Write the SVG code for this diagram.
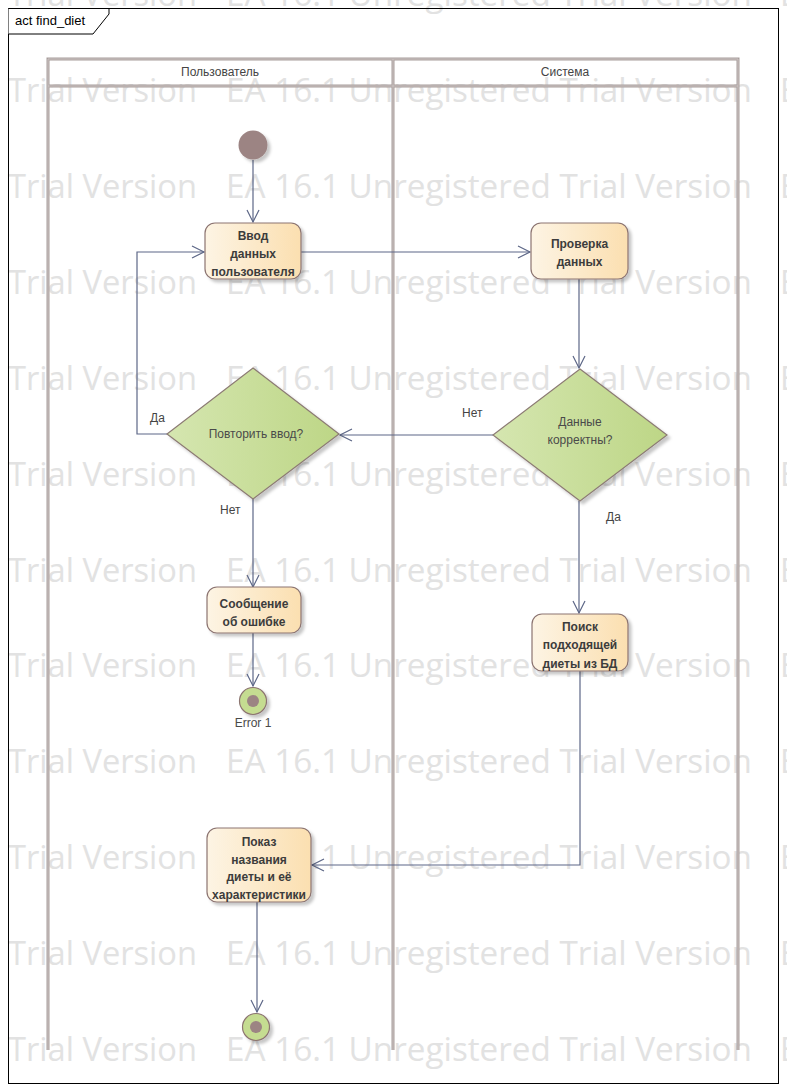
<svg xmlns="http://www.w3.org/2000/svg" width="787" height="1092" viewBox="0 0 787 1092">
<style>
.wm{font-family:"Open Sans","Liberation Sans",sans-serif;font-size:32px;fill:#e2e2e2}
.lane{fill:none;stroke:#a89d9b;stroke-width:3}
.lanein{fill:none;stroke:#cdc5c4;stroke-width:1}
.hdr{font-family:"Liberation Sans",Arial,sans-serif;font-size:12px;fill:#444;text-anchor:middle}
.act{fill:url(#ga);stroke:#8c7471;stroke-width:1.2;filter:url(#sh)}
.dec{fill:url(#gd);stroke:#8c7b74;stroke-width:1.2;filter:url(#sh)}
.at{font-family:"Liberation Sans",Arial,sans-serif;font-size:12px;font-weight:bold;fill:#3c3c3c;text-anchor:middle}
.dt{font-family:"Liberation Sans",Arial,sans-serif;font-size:12px;fill:#4a4a4a;text-anchor:middle}
.lbl{font-family:"Liberation Sans",Arial,sans-serif;font-size:12px;fill:#444}
.con{fill:none;stroke:#5d6787;stroke-width:1.2}
</style>
<defs>
<linearGradient id="ga" x1="0" y1="0" x2="1" y2="0">
<stop offset="0" stop-color="#fdf4e4"/><stop offset="1" stop-color="#fbdfb0"/>
</linearGradient>
<linearGradient id="gd" x1="0" y1="0" x2="1" y2="0">
<stop offset="0" stop-color="#d5e6b0"/><stop offset="1" stop-color="#bdd686"/>
</linearGradient>
<filter id="sh" x="-20%" y="-20%" width="150%" height="150%">
<feDropShadow dx="3" dy="3" stdDeviation="1.5" flood-color="#000" flood-opacity="0.22"/>
</filter>
<marker id="arr" markerUnits="userSpaceOnUse" markerWidth="14" markerHeight="14" refX="12" refY="6" orient="auto" overflow="visible">
<path d="M0,0 L12,6 L0,12" fill="none" stroke="#5d6787" stroke-width="1.2"/>
</marker>
</defs>
<rect width="787" height="1092" fill="#fff"/>
<g id="watermark">
<text class="wm" y="6"><tspan x="8" textLength="189" lengthAdjust="spacingAndGlyphs">Trial Version</tspan><tspan x="226" textLength="526" lengthAdjust="spacingAndGlyphs">EA 16.1 Unregistered Trial Version</tspan><tspan x="780">EA</tspan></text>
<text class="wm" y="102"><tspan x="8" textLength="189" lengthAdjust="spacingAndGlyphs">Trial Version</tspan><tspan x="226" textLength="526" lengthAdjust="spacingAndGlyphs">EA 16.1 Unregistered Trial Version</tspan><tspan x="780">EA</tspan></text>
<text class="wm" y="198"><tspan x="8" textLength="189" lengthAdjust="spacingAndGlyphs">Trial Version</tspan><tspan x="226" textLength="526" lengthAdjust="spacingAndGlyphs">EA 16.1 Unregistered Trial Version</tspan><tspan x="780">EA</tspan></text>
<text class="wm" y="294"><tspan x="8" textLength="189" lengthAdjust="spacingAndGlyphs">Trial Version</tspan><tspan x="226" textLength="526" lengthAdjust="spacingAndGlyphs">EA 16.1 Unregistered Trial Version</tspan><tspan x="780">EA</tspan></text>
<text class="wm" y="390"><tspan x="8" textLength="189" lengthAdjust="spacingAndGlyphs">Trial Version</tspan><tspan x="226" textLength="526" lengthAdjust="spacingAndGlyphs">EA 16.1 Unregistered Trial Version</tspan><tspan x="780">EA</tspan></text>
<text class="wm" y="486"><tspan x="8" textLength="189" lengthAdjust="spacingAndGlyphs">Trial Version</tspan><tspan x="226" textLength="526" lengthAdjust="spacingAndGlyphs">EA 16.1 Unregistered Trial Version</tspan><tspan x="780">EA</tspan></text>
<text class="wm" y="582"><tspan x="8" textLength="189" lengthAdjust="spacingAndGlyphs">Trial Version</tspan><tspan x="226" textLength="526" lengthAdjust="spacingAndGlyphs">EA 16.1 Unregistered Trial Version</tspan><tspan x="780">EA</tspan></text>
<text class="wm" y="677"><tspan x="8" textLength="189" lengthAdjust="spacingAndGlyphs">Trial Version</tspan><tspan x="226" textLength="526" lengthAdjust="spacingAndGlyphs">EA 16.1 Unregistered Trial Version</tspan><tspan x="780">EA</tspan></text>
<text class="wm" y="773"><tspan x="8" textLength="189" lengthAdjust="spacingAndGlyphs">Trial Version</tspan><tspan x="226" textLength="526" lengthAdjust="spacingAndGlyphs">EA 16.1 Unregistered Trial Version</tspan><tspan x="780">EA</tspan></text>
<text class="wm" y="869"><tspan x="8" textLength="189" lengthAdjust="spacingAndGlyphs">Trial Version</tspan><tspan x="226" textLength="526" lengthAdjust="spacingAndGlyphs">EA 16.1 Unregistered Trial Version</tspan><tspan x="780">EA</tspan></text>
<text class="wm" y="965"><tspan x="8" textLength="189" lengthAdjust="spacingAndGlyphs">Trial Version</tspan><tspan x="226" textLength="526" lengthAdjust="spacingAndGlyphs">EA 16.1 Unregistered Trial Version</tspan><tspan x="780">EA</tspan></text>
<text class="wm" y="1061"><tspan x="8" textLength="189" lengthAdjust="spacingAndGlyphs">Trial Version</tspan><tspan x="226" textLength="526" lengthAdjust="spacingAndGlyphs">EA 16.1 Unregistered Trial Version</tspan><tspan x="780">EA</tspan></text>
</g>
<g id="frame">
<rect x="8.5" y="8.5" width="770" height="1075" fill="none" stroke="#000" stroke-width="1"/>
<path d="M8.5,8.5 H109 V14 L93,34 H8.5" fill="#fff" stroke="#000" stroke-width="1"/>
<text x="15" y="25" font-family="Liberation Sans, Arial, sans-serif" font-size="13" fill="#000">act find_diet</text>
</g>
<g id="lanes">
<path class="lane" d="M48,1050 V59 H738 V1050 M393,59 V1050 M48,86 H738"/>
<path class="lanein" d="M48,1050 V59 H738 V1050 M393,59 V1050 M48,86 H738"/>
<text class="hdr" x="220" y="76">Пользователь</text>
<text class="hdr" x="565" y="76">Система</text>
</g>
<g id="connectors">
<path class="con" d="M253,160 V222" marker-end="url(#arr)"/>
<path class="con" d="M301,252 H530" marker-end="url(#arr)"/>
<path class="con" d="M579,279 V368" marker-end="url(#arr)"/>
<path class="con" d="M493,435 H340" marker-end="url(#arr)"/>
<path class="con" d="M167,434 H137 V252 H204" marker-end="url(#arr)"/>
<path class="con" d="M253,499 V587" marker-end="url(#arr)"/>
<path class="con" d="M579,501 V613" marker-end="url(#arr)"/>
<path class="con" d="M253,633 V686" marker-end="url(#arr)"/>
<path class="con" d="M580,671 V865 H312" marker-end="url(#arr)"/>
<path class="con" d="M257,902 V1012" marker-end="url(#arr)"/>
<text class="lbl" x="462" y="417">Нет</text>
<text class="lbl" x="150" y="422">Да</text>
<text class="lbl" x="220" y="514">Нет</text>
<text class="lbl" x="606" y="521">Да</text>
</g>
<g id="start">
<circle cx="253" cy="145" r="14.5" fill="#9c8483" filter="url(#sh)"/>
</g>
<g id="vvod">
<rect class="act" x="205" y="223" width="96" height="56" rx="10"/>
<text class="at" x="253" y="240">Ввод</text>
<text class="at" x="253" y="258">данных</text>
<text class="at" x="253" y="276">пользователя</text>
</g>
<g id="proverka">
<rect class="act" x="531" y="223" width="97" height="56" rx="10"/>
<text class="at" x="579.5" y="248">Проверка</text>
<text class="at" x="579.5" y="266">данных</text>
</g>
<g id="povtorit">
<polygon class="dec" points="253,368 339,434 253,499 167,434"/>
<text class="dt" x="256" y="438">Повторить ввод?</text>
</g>
<g id="korrektny">
<polygon class="dec" points="580,369 667,435 580,501 493,435"/>
<text class="dt" x="580" y="426">Данные</text>
<text class="dt" x="580" y="444">корректны?</text>
</g>
<g id="soobshenie">
<rect class="act" x="207" y="587" width="94" height="46" rx="10"/>
<text class="at" x="254" y="608">Сообщение</text>
<text class="at" x="254" y="626">об ошибке</text>
</g>
<g id="error1">
<circle cx="253" cy="701" r="13.5" fill="#c5dc91" stroke="#8c7471" stroke-width="1.2" filter="url(#sh)"/>
<circle cx="253" cy="701" r="6" fill="#9c8483"/>
<text class="dt" x="253" y="727">Error 1</text>
</g>
<g id="poisk">
<rect class="act" x="532" y="614" width="96" height="57" rx="10"/>
<text class="at" x="580" y="631">Поиск</text>
<text class="at" x="580" y="649">подходящей</text>
<text class="at" x="580" y="668">диеты из БД</text>
</g>
<g id="pokaz">
<rect class="act" x="207" y="828" width="104" height="74" rx="10"/>
<text class="at" x="259" y="846">Показ</text>
<text class="at" x="259" y="864">названия</text>
<text class="at" x="259" y="881">диеты и её</text>
<text class="at" x="259" y="899">характеристики</text>
</g>
<g id="final">
<circle cx="256" cy="1027" r="13.5" fill="#c5dc91" stroke="#8c7471" stroke-width="1.2" filter="url(#sh)"/>
<circle cx="256" cy="1027" r="6" fill="#9c8483"/>
</g>
</svg>
